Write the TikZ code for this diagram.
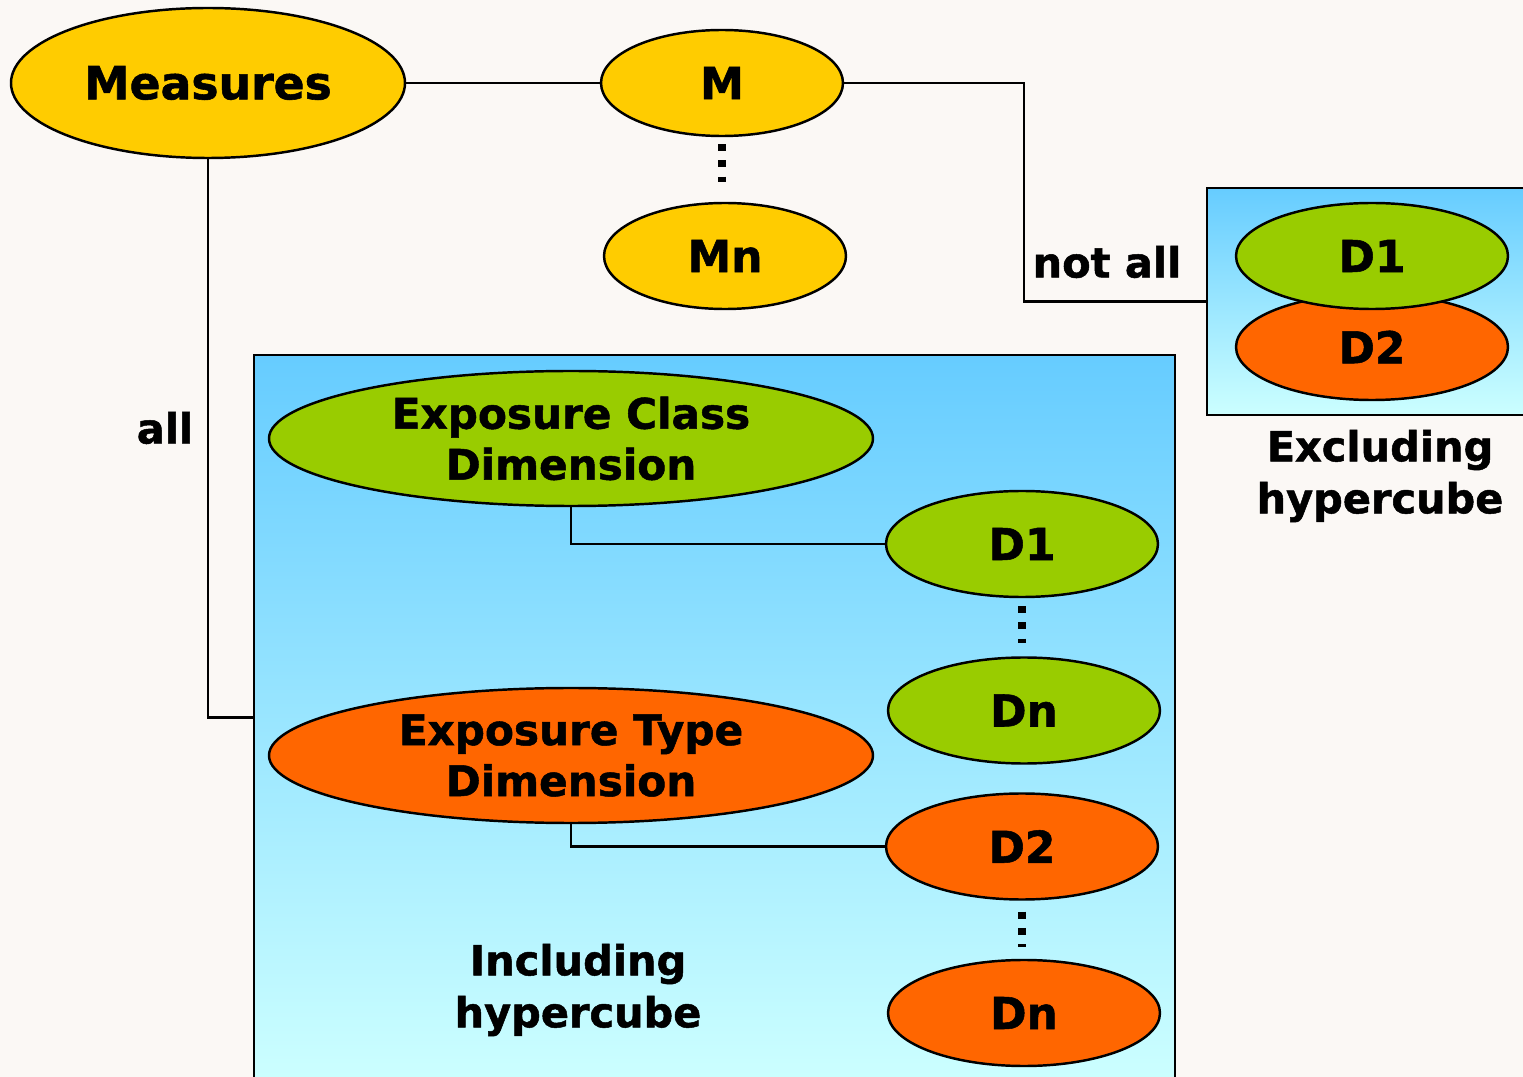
\documentclass[tikz,border=0pt]{standalone}
\usepackage{fontspec}
\setmainfont{DejaVu Sans}[BoldFeatures={FakeBold=1.2}]
\usetikzlibrary{shapes.geometric,positioning}
\definecolor{cubeyellow}{HTML}{FFCC00}
\definecolor{cubegreen}{HTML}{99CC00}
\definecolor{cubeorange}{HTML}{FF6600}
\definecolor{cubesky}{HTML}{66CCFF}
\definecolor{cubeice}{HTML}{CCFFFF}
\definecolor{cubepaper}{HTML}{FBF8F5}

\tikzset{
  dim/.style={ellipse,draw=black,line width=0.7pt,inner sep=0pt,text=black,
    font=\bfseries\fontsize{12.5}{15}\selectfont},
  smalldim/.style={dim,minimum width=2.72cm,minimum height=1.06cm},
  widedim/.style={dim,minimum width=6.04cm,minimum height=1.35cm,align=center,
    font=\bfseries\fontsize{12}{14.5}\selectfont},
  cubebox/.style={rectangle,draw=black,line width=0.7pt,inner sep=0pt,
    top color=cubesky,bottom color=cubeice},
  link/.style={draw=black,line width=0.7pt},
  dotlink/.style={draw=black,line width=2pt,dash pattern=on 2pt off 2.6pt},
  lbl/.style={font=\bfseries\fontsize{11.8}{14.8}\selectfont,align=center,text=black}
}

\begin{document}
\begin{tikzpicture}

  % ---- Page ----------------------------------------------------
  \clip (0,0) rectangle (15.23,-10.77);
  \fill[cubepaper] (0,0) rectangle (15.23,-10.77);

  % ---- Hypercube boxes -----------------------------------------
  \node[cubebox,minimum width=9.21cm,minimum height=7.25cm] (incbox) at (7.145,-7.175) {};
  \node[cubebox,minimum width=3.21cm,minimum height=2.27cm] (exbox) at (13.675,-3.015) {};

  % ---- Measures ------------------------------------------------
  \node[dim,fill=cubeyellow,minimum width=3.94cm,minimum height=1.50cm,
    font=\bfseries\fontsize{13}{15}\selectfont] (meas) at (2.08,-0.83) {Measures};
  \node[dim,fill=cubeyellow,minimum width=2.42cm,minimum height=1.06cm] (mA) at (7.22,-0.83) {M};
  \node[dim,fill=cubeyellow,minimum width=2.42cm,minimum height=1.06cm] (mN) at (7.25,-2.56) {Mn};

  % ---- Excluding hypercube -------------------------------------
  \node[smalldim,fill=cubeorange] (exD2) at (13.72,-3.47) {D2};
  \node[smalldim,fill=cubegreen]  (exD1) at (13.72,-2.56) {D1};

  % ---- Including hypercube -------------------------------------
  \node[widedim,fill=cubegreen]  (ecd) at (5.71,-4.385) {Exposure Class\\Dimension};
  \node[widedim,fill=cubeorange] (etd) at (5.71,-7.555) {Exposure Type\\Dimension};

  \node[smalldim,fill=cubegreen]  (cD1) at (10.22,-5.44) {D1};
  \node[smalldim,fill=cubegreen]  (cDn) at (10.24,-7.105) {Dn};
  \node[smalldim,fill=cubeorange] (tD2) at (10.22,-8.465) {D2};
  \node[smalldim,fill=cubeorange] (tDn) at (10.24,-10.13) {Dn};

  % ---- Connectors ----------------------------------------------
  \coordinate (bend) at (10.24,-0.83);
  \draw[link] (meas.east) -- (mA.west);
  \draw[link] (mA.east) -- (bend) |- (exbox.west);
  \draw[link] (meas.south) |- (incbox.west);
  \draw[link] (ecd.south) |- (cD1.west);
  \draw[link] (etd.south) |- (tD2.west);

  % dotted "and so on" links
  \draw[dotlink,shorten <=0.07cm,shorten >=0.20cm] (mA.south) -- (mA.south |- mN.north);
  \draw[dotlink,shorten <=0.08cm,shorten >=0.13cm] (cD1.south) -- (cD1.south |- cDn.north);
  \draw[dotlink,shorten <=0.11cm,shorten >=0.12cm] (tD2.south) -- (tD2.south |- tDn.north);

  % ---- Labels --------------------------------------------------
  \node[lbl] (alllbl) at (1.65,-4.28) {all};
  \node[lbl] (notlbl) at (11.07,-2.62) {not all};
  \node[lbl] (exlbl) at (13.80,-4.76) {Excluding\\hypercube};
  \node[lbl] (inlbl) at (5.78,-9.90) {Including\\hypercube};

\end{tikzpicture}
\end{document}
